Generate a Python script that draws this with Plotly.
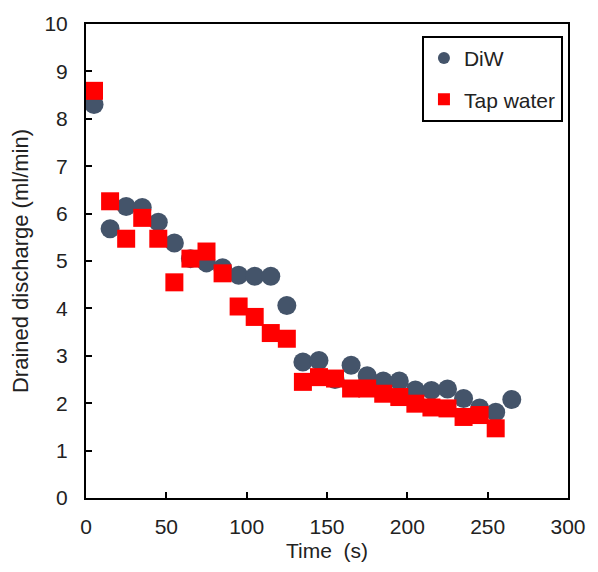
import plotly.graph_objects as go

time_diw = [5, 15, 25, 35, 45, 55, 65, 75, 85, 95, 105, 115, 125, 135, 145, 155,
            165, 175, 185, 195, 205, 215, 225, 235, 245, 255, 265]
diw = [8.3, 5.68, 6.15, 6.13, 5.82, 5.38, 5.05, 4.96, 4.86, 4.7, 4.68, 4.68, 4.06,
       2.87, 2.9, 2.5, 2.8, 2.58, 2.47, 2.47, 2.28, 2.27, 2.3, 2.1, 1.9, 1.81, 2.08]

time_tap = [5, 15, 25, 35, 45, 55, 65, 75, 85, 95, 105, 115, 125, 135, 145, 155,
            165, 175, 185, 195, 205, 215, 225, 235, 245, 255]
tap = [8.59, 6.26, 5.47, 5.91, 5.47, 4.55, 5.05, 5.2, 4.74, 4.04, 3.82, 3.48, 3.36,
       2.45, 2.55, 2.52, 2.31, 2.31, 2.2, 2.13, 1.99, 1.91, 1.89, 1.71, 1.75, 1.47]

x_ticks = [0, 50, 100, 150, 200, 250, 300]
y_ticks = [0, 1, 2, 3, 4, 5, 6, 7, 8, 9, 10]

FONT = "Arial, Liberation Sans, sans-serif"
TXT = "#222222"

fig = go.Figure()
fig.add_trace(go.Scatter(
    x=time_diw, y=diw, mode="markers", name="DiW", legendgroup="a",
    marker=dict(symbol="circle", size=19, color="#44546A"),
))
fig.add_trace(go.Scatter(
    x=time_tap, y=tap, mode="markers", name="Tap water", legendgroup="b",
    marker=dict(symbol="square", size=18, color="#FF0000"),
))

axis_common = dict(
    showline=True, linecolor="black", linewidth=2, mirror=True,
    ticks="inside", ticklen=6, tickwidth=2, tickcolor="black",
    showgrid=False, zeroline=False,
    tickfont=dict(family=FONT, size=21, color=TXT),
)

fig.update_xaxes(
    range=[0, 300], tickvals=x_ticks, ticktext=[str(v) for v in x_ticks],
    title=dict(text="Time \u00a0(s)", font=dict(family=FONT, size=21, color=TXT), standoff=6),
    ticklabelstandoff=9,
    **axis_common,
)
fig.update_yaxes(
    range=[0, 10], tickvals=y_ticks, ticktext=[str(v) for v in y_ticks],
    title=dict(text="Drained discharge (ml/min)", font=dict(family=FONT, size=22, color=TXT), standoff=10),
    ticklabelstandoff=12,
    **axis_common,
)

fig.update_layout(
    width=598, height=572,
    margin=dict(l=86, r=23, t=23, b=74),
    paper_bgcolor="white", plot_bgcolor="white",
    font=dict(family=FONT, size=21, color=TXT),
    showlegend=True,
    legend=dict(
        x=0.697, y=0.975, xanchor="left", yanchor="top",
        bordercolor="black", borderwidth=2, bgcolor="white",
        font=dict(family=FONT, size=21, color=TXT),
        itemsizing="constant", tracegroupgap=11,
    ),
)

fig.write_html("out.html")
